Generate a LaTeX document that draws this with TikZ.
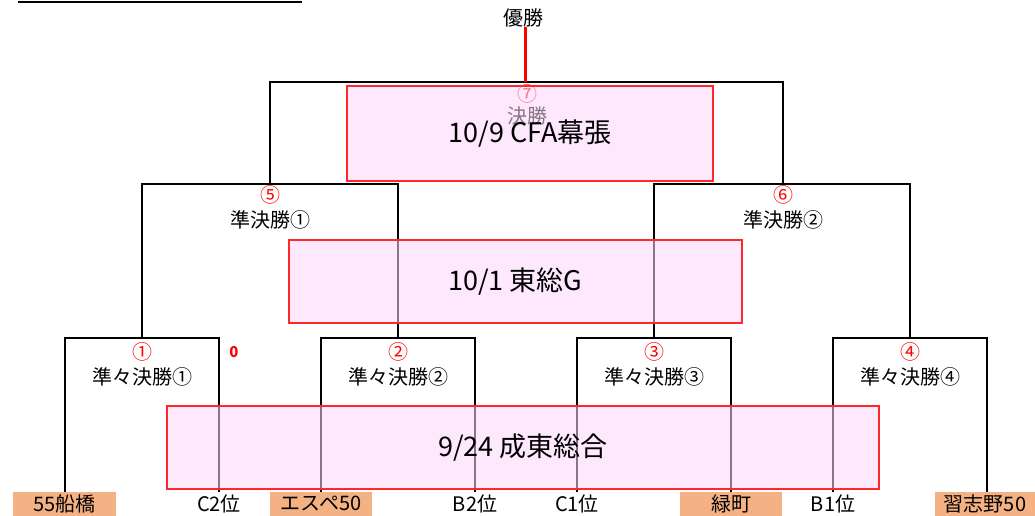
\documentclass[tikz,border=0pt]{standalone}
\usepackage{fontspec}
\setmainfont{Noto Sans CJK JP}
\definecolor{boxpink}{RGB}{251,213,251}
\definecolor{boxred}{RGB}{255,40,40}
\definecolor{teamorange}{RGB}{244,177,131}
\begin{document}
\begin{tikzpicture}[x=1pt,y=-1pt,
  br/.style={line width=1.6pt, black},
  lbl/.style={font=\fontsize{20}{24}\selectfont, inner sep=0pt},
  num/.style={font=\fontsize{20}{24}\selectfont, text=red, inner sep=0pt},
  team/.style={fill=teamorange, minimum height=24pt, inner sep=0pt, font=\fontsize{20}{24}\selectfont},
  plain/.style={minimum height=24pt, inner sep=0pt, font=\fontsize{20}{24}\selectfont},
  venue/.style={draw=boxred, line width=1.1pt, fill=boxpink, fill opacity=0.55, text opacity=1, inner sep=0pt, font=\fontsize{27}{32}\selectfont}]
\useasboundingbox (0,0) rectangle (1035,516);
\draw[line width=2pt] (18,2) -- (302,2);
% bottom entries
\node[team, minimum width=103pt] (t1) at (64.5,504) {55船橋};
\node[plain] (t2) at (219,504) {C2位};
\node[team, minimum width=102pt] (t3) at (321,504) {エスペ50};
\node[plain] (t4) at (475,504) {B2位};
\node[plain] (t5) at (577,504) {C1位};
\node[team, minimum width=102pt] (t6) at (731,504) {緑町};
\node[plain] (t7) at (833,504) {B1位};
\node[team, minimum width=100pt] (t8) at (985,504) {習志野50};
% junction coordinates
\coordinate (q1) at (142,338);
\coordinate (q2) at (398,338);
\coordinate (q3) at (654,338);
\coordinate (q4) at (910,338);
\coordinate (s1) at (270,184);
\coordinate (s2) at (783,184);
\coordinate (fin) at (525,82);
% brackets
\draw[br] (t1.north -| 65,0) |- (q1) -| (t2.north);
\draw[br] (t3.north) |- (q2) -| (t4.north);
\draw[br] (t5.north) |- (q3) -| (t6.north);
\draw[br] (t7.north) |- (q4) -| (t8.north -| 987,0);
\draw[br] (q1) |- (s1) -| (q2);
\draw[br] (q3) |- (s2) -| (q4);
\draw[br] (s1) |- (fin) -| (s2);
\node[lbl] (champ) at (523,18) {優勝};
\draw[red, line width=3pt] (fin) -- (fin |- champ.south);
% match labels
\node[num] (n1) at (142,352) {①};
\node[lbl] (m1) at (142,377) {準々決勝①};
\node[num] (n2) at (398,352) {②};
\node[lbl] (m2) at (398,377) {準々決勝②};
\node[num] (n3) at (654,352) {③};
\node[lbl] (m3) at (654,377) {準々決勝③};
\node[num] (n4) at (910,352) {④};
\node[lbl] (m4) at (910,377) {準々決勝④};
\node[font=\fontsize{15}{17}\selectfont\bfseries, text=red, inner sep=0pt] (zero) at (234,352) {0};
\node[num] (n5) at (270,195) {⑤};
\node[lbl] (m5) at (270,220) {準決勝①};
\node[num] (n6) at (783,195) {⑥};
\node[lbl] (m6) at (783,220) {準決勝②};
\node[num] (n7) at (527,94) {⑦};
\node[lbl] (m7) at (527,116) {決勝};
% venue boxes
\node[venue, minimum width=366pt, minimum height=95pt] (v3) at (530,133.5) {10/9 CFA幕張};
\node[venue, minimum width=453pt, minimum height=83pt] (v2) at (515.5,281.5) {10/1 東総G};
\node[venue, minimum width=712pt, minimum height=83pt] (v1) at (523,447.5) {9/24 成東総合};
\end{tikzpicture}
\end{document}
